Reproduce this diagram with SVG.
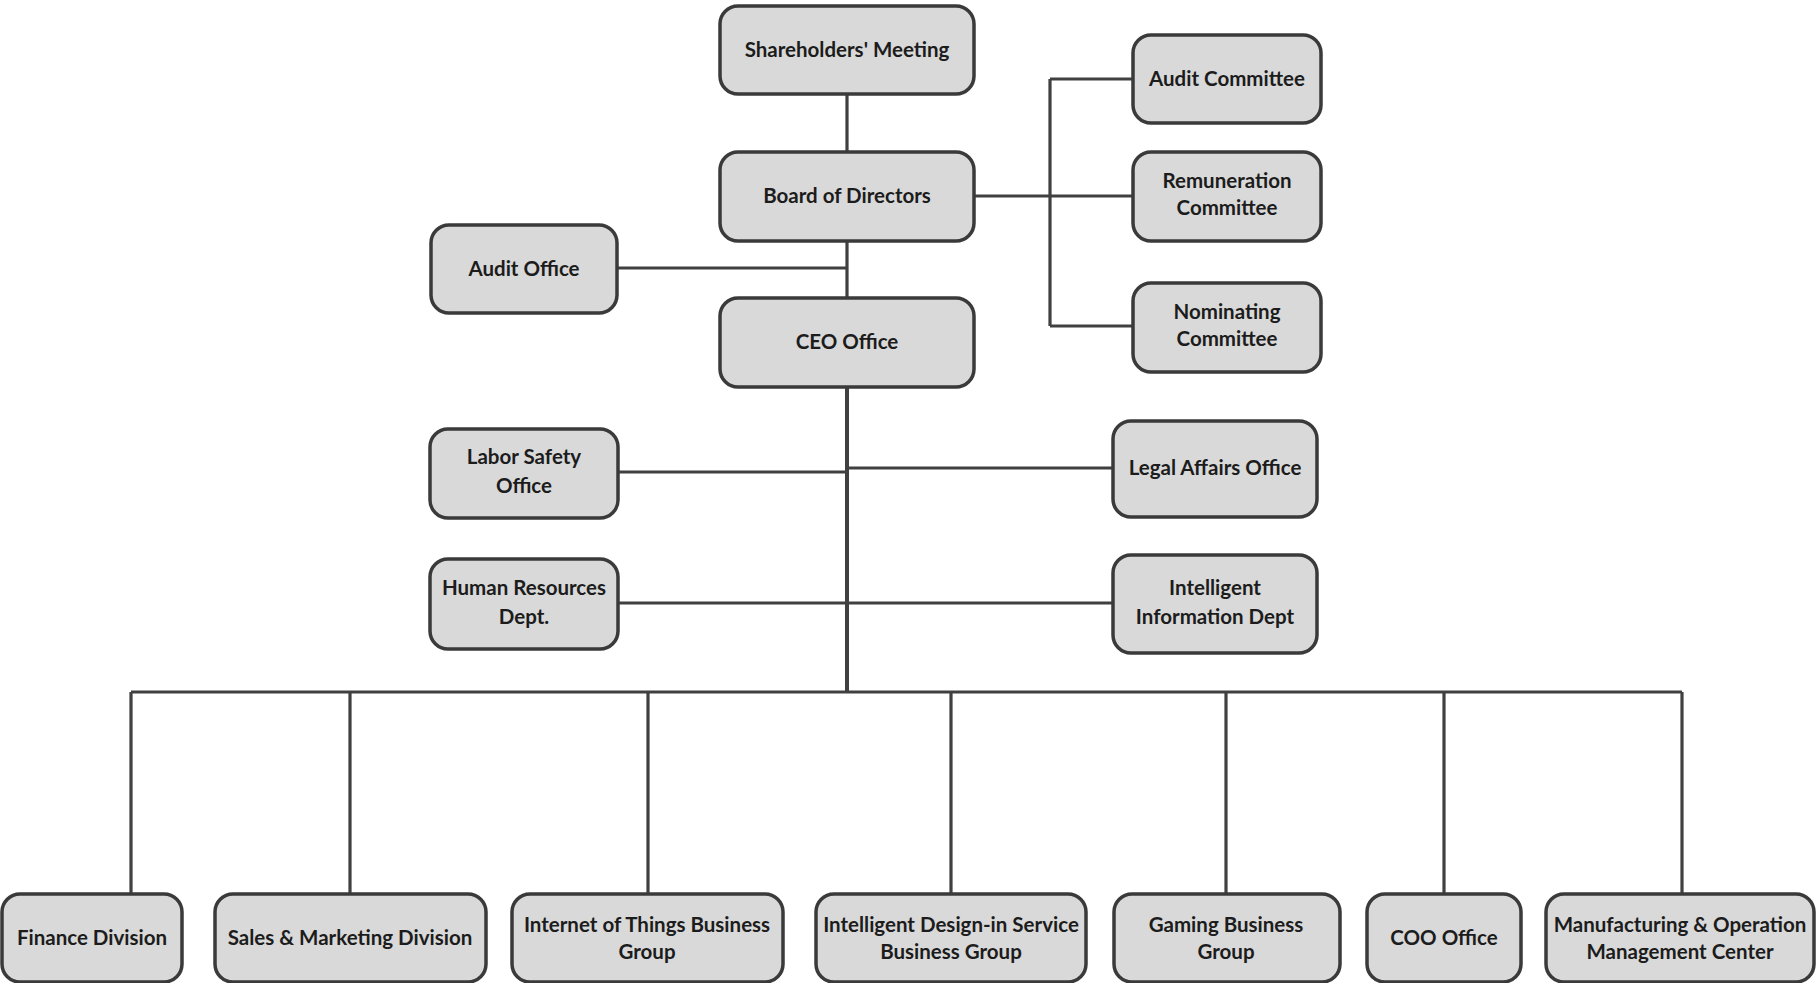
<svg xmlns="http://www.w3.org/2000/svg" width="1816" height="983" viewBox="0 0 1816 983">
<style>
.box{fill:#d9d9d9;stroke:#3a3a3a;stroke-width:3.5}
.t{font-family:Lato,"Liberation Sans",sans-serif;font-weight:bold;font-size:20.5px;fill:#1c1c1c;text-anchor:middle}
.c{stroke:#404040;stroke-width:3.2;fill:none}
.m{stroke:#404040;stroke-width:4;fill:none}
</style>
<rect width="1816" height="983" fill="#ffffff"/>
<g id="connectors">
<path class="c" d="M847 94V152M847 241V298"/>
<path class="m" d="M847 387V692"/>
<path class="c" d="M617 268H847"/>
<path class="c" d="M974 196H1133M1050 79V326M1050 79H1133M1050 326H1133"/>
<path class="c" d="M618 472H848M848 468H1113M618 603H1113"/>
<path class="c" d="M131 692H1682"/>
<path class="c" d="M131 692V894M350 692V894M648 692V894M951 692V894M1226 692V894M1444 692V894M1682 692V894"/>
</g>
<g id="shareholders"><rect class="box" x="720" y="6" width="254" height="88" rx="18"/><text class="t" x="847" y="57">Shareholders' Meeting</text></g>
<g id="board"><rect class="box" x="720" y="152" width="254" height="89" rx="18"/><text class="t" x="847" y="203">Board of Directors</text></g>
<g id="ceo"><rect class="box" x="720" y="298" width="254" height="89" rx="18"/><text class="t" x="847" y="349">CEO Office</text></g>
<g id="audit-office"><rect class="box" x="431" y="225" width="186" height="88" rx="18"/><text class="t" x="524" y="276">Audit Office</text></g>
<g id="audit-committee"><rect class="box" x="1133" y="35" width="188" height="88" rx="18"/><text class="t" x="1227" y="86">Audit Committee</text></g>
<g id="remuneration"><rect class="box" x="1133" y="152" width="188" height="89" rx="18"/><text class="t" x="1227" y="188">Remuneration</text><text class="t" x="1227" y="215">Committee</text></g>
<g id="nominating"><rect class="box" x="1133" y="283" width="188" height="89" rx="18"/><text class="t" x="1227" y="319">Nominating</text><text class="t" x="1227" y="346">Committee</text></g>
<g id="labor-safety"><rect class="box" x="430" y="429" width="188" height="89" rx="18"/><text class="t" x="524" y="464">Labor Safety</text><text class="t" x="524" y="493">Office</text></g>
<g id="legal"><rect class="box" x="1113" y="421" width="204" height="96" rx="18"/><text class="t" x="1215" y="475">Legal Affairs Office</text></g>
<g id="hr"><rect class="box" x="430" y="559" width="188" height="90" rx="18"/><text class="t" x="524" y="595">Human Resources</text><text class="t" x="524" y="624">Dept.</text></g>
<g id="intelligent-info"><rect class="box" x="1113" y="555" width="204" height="98" rx="18"/><text class="t" x="1215" y="595">Intelligent</text><text class="t" x="1215" y="624">Information Dept</text></g>
<g id="finance"><rect class="box" x="2" y="894" width="180" height="88" rx="18"/><text class="t" x="92" y="945">Finance Division</text></g>
<g id="sales"><rect class="box" x="215" y="894" width="271" height="88" rx="18"/><text class="t" x="350" y="945">Sales &amp; Marketing Division</text></g>
<g id="iot"><rect class="box" x="512" y="894" width="271" height="88" rx="18"/><text class="t" x="647" y="932">Internet of Things Business</text><text class="t" x="647" y="959">Group</text></g>
<g id="design-in"><rect class="box" x="816" y="894" width="270" height="88" rx="18"/><text class="t" x="951" y="932">Intelligent Design-in Service</text><text class="t" x="951" y="959">Business Group</text></g>
<g id="gaming"><rect class="box" x="1114" y="894" width="226" height="88" rx="18"/><text class="t" x="1226" y="932">Gaming Business</text><text class="t" x="1226" y="959">Group</text></g>
<g id="coo"><rect class="box" x="1367" y="894" width="154" height="88" rx="18"/><text class="t" x="1444" y="945">COO Office</text></g>
<g id="manufacturing"><rect class="box" x="1546" y="894" width="268" height="88" rx="18"/><text class="t" x="1680" y="932">Manufacturing &amp; Operation</text><text class="t" x="1680" y="959">Management Center</text></g>
</svg>
